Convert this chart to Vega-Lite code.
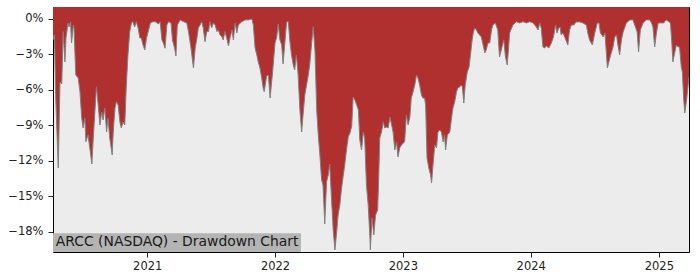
{
  "$schema": "https://vega.github.io/schema/vega-lite/v6.json",
  "width": 636,
  "height": 245,
  "autosize": {"type": "none"},
  "padding": {"left": 53, "top": 7, "right": 11, "bottom": 28},
  "background": "white",
  "config": {
    "view": {"fill": "#ececec", "stroke": "#000000", "strokeWidth": 1},
    "font": "DejaVu Sans",
    "axis": {"labelFont": "DejaVu Sans", "labelFontSize": 11.5, "labelColor": "#222222", "tickColor": "#222222", "tickSize": 5, "domain": false, "grid": false, "title": null}
  },
  "layer": [
    {
      "data": {"values": [
        {"date": "2020-04-07", "dd": -1.77}, {"date": "2020-04-11", "dd": -1.35}, {"date": "2020-04-15", "dd": -6.85}, {"date": "2020-04-22", "dd": -12.59},
        {"date": "2020-04-27", "dd": -5.32}, {"date": "2020-05-02", "dd": -5.49}, {"date": "2020-05-06", "dd": -1.07}, {"date": "2020-05-11", "dd": -3.63},
        {"date": "2020-05-14", "dd": -1.61}, {"date": "2020-05-20", "dd": -0.34}, {"date": "2020-05-23", "dd": -0.68}, {"date": "2020-05-27", "dd": -0.23},
        {"date": "2020-05-30", "dd": -2.03}, {"date": "2020-06-04", "dd": -0.51}, {"date": "2020-06-06", "dd": -0.76}, {"date": "2020-06-11", "dd": -4.73},
        {"date": "2020-06-18", "dd": -4.99}, {"date": "2020-06-23", "dd": -6.14}, {"date": "2020-06-28", "dd": -8.37}, {"date": "2020-07-02", "dd": -9.21},
        {"date": "2020-07-07", "dd": -8.37}, {"date": "2020-07-10", "dd": -10.37}, {"date": "2020-07-16", "dd": -9.80}, {"date": "2020-07-21", "dd": -10.90},
        {"date": "2020-07-27", "dd": -12.25}, {"date": "2020-07-31", "dd": -10.06}, {"date": "2020-08-09", "dd": -5.72}, {"date": "2020-08-14", "dd": -7.27},
        {"date": "2020-08-19", "dd": -8.96}, {"date": "2020-08-24", "dd": -7.86}, {"date": "2020-08-28", "dd": -8.54}, {"date": "2020-09-02", "dd": -7.52},
        {"date": "2020-09-07", "dd": -9.55}, {"date": "2020-09-11", "dd": -8.37}, {"date": "2020-09-16", "dd": -10.06}, {"date": "2020-09-23", "dd": -11.49},
        {"date": "2020-09-26", "dd": -9.55}, {"date": "2020-10-01", "dd": -7.52}, {"date": "2020-10-05", "dd": -6.99}, {"date": "2020-10-10", "dd": -7.27},
        {"date": "2020-10-15", "dd": -8.70}, {"date": "2020-10-19", "dd": -9.21}, {"date": "2020-10-24", "dd": -8.70}, {"date": "2020-10-29", "dd": -8.96},
        {"date": "2020-11-02", "dd": -5.83}, {"date": "2020-11-07", "dd": -3.04}, {"date": "2020-11-12", "dd": -1.10}, {"date": "2020-11-17", "dd": -0.34},
        {"date": "2020-11-21", "dd": -0.23}, {"date": "2020-11-26", "dd": -0.68}, {"date": "2020-12-01", "dd": -0.23}, {"date": "2020-12-06", "dd": -0.76},
        {"date": "2020-12-11", "dd": -1.61}, {"date": "2020-12-15", "dd": -1.61}, {"date": "2020-12-20", "dd": -2.20}, {"date": "2020-12-25", "dd": -2.62},
        {"date": "2020-12-30", "dd": -1.61}, {"date": "2021-01-05", "dd": -0.93}, {"date": "2021-01-10", "dd": -0.34}, {"date": "2021-01-15", "dd": -0.25},
        {"date": "2021-01-24", "dd": -0.23}, {"date": "2021-02-02", "dd": -0.42}, {"date": "2021-02-07", "dd": -0.25}, {"date": "2021-02-12", "dd": -1.77},
        {"date": "2021-02-16", "dd": -2.03}, {"date": "2021-02-21", "dd": -2.48}, {"date": "2021-02-26", "dd": -0.51}, {"date": "2021-03-03", "dd": -0.23},
        {"date": "2021-03-10", "dd": -0.34}, {"date": "2021-03-14", "dd": -1.77}, {"date": "2021-03-20", "dd": -2.45}, {"date": "2021-03-24", "dd": -3.13},
        {"date": "2021-03-28", "dd": -0.51}, {"date": "2021-04-05", "dd": -0.08}, {"date": "2021-04-15", "dd": -0.23}, {"date": "2021-04-24", "dd": -0.34},
        {"date": "2021-04-29", "dd": -1.10}, {"date": "2021-05-06", "dd": -2.45}, {"date": "2021-05-13", "dd": -4.14}, {"date": "2021-05-18", "dd": -2.45},
        {"date": "2021-05-23", "dd": -1.61}, {"date": "2021-05-27", "dd": -0.76}, {"date": "2021-06-06", "dd": -0.23}, {"date": "2021-06-10", "dd": -0.76},
        {"date": "2021-06-15", "dd": -1.92}, {"date": "2021-06-20", "dd": -1.07}, {"date": "2021-06-25", "dd": -1.07}, {"date": "2021-06-29", "dd": -0.23},
        {"date": "2021-07-04", "dd": -0.76}, {"date": "2021-07-09", "dd": -0.34}, {"date": "2021-07-14", "dd": -0.51}, {"date": "2021-07-19", "dd": -1.07},
        {"date": "2021-07-23", "dd": -0.93}, {"date": "2021-07-28", "dd": -1.35}, {"date": "2021-08-02", "dd": -1.50}, {"date": "2021-08-06", "dd": -1.77},
        {"date": "2021-08-11", "dd": -1.07}, {"date": "2021-08-16", "dd": -1.61}, {"date": "2021-08-21", "dd": -2.28}, {"date": "2021-08-26", "dd": -1.50},
        {"date": "2021-08-31", "dd": -0.93}, {"date": "2021-09-04", "dd": -1.77}, {"date": "2021-09-09", "dd": -0.34}, {"date": "2021-09-14", "dd": -1.18},
        {"date": "2021-09-18", "dd": -0.51}, {"date": "2021-09-28", "dd": -0.23}, {"date": "2021-10-08", "dd": -0.08}, {"date": "2021-10-17", "dd": -0.08},
        {"date": "2021-10-27", "dd": 0.0}, {"date": "2021-10-31", "dd": -0.51}, {"date": "2021-11-05", "dd": -2.45}, {"date": "2021-11-10", "dd": -3.04},
        {"date": "2021-11-14", "dd": -3.63}, {"date": "2021-11-19", "dd": -4.14}, {"date": "2021-11-24", "dd": -4.99}, {"date": "2021-11-28", "dd": -5.83},
        {"date": "2021-12-01", "dd": -6.14}, {"date": "2021-12-08", "dd": -4.82}, {"date": "2021-12-13", "dd": -4.73}, {"date": "2021-12-18", "dd": -6.68},
        {"date": "2021-12-25", "dd": -4.48}, {"date": "2022-01-01", "dd": -2.03}, {"date": "2022-01-06", "dd": -1.50}, {"date": "2022-01-10", "dd": -0.42},
        {"date": "2022-01-15", "dd": -1.77}, {"date": "2022-01-20", "dd": -2.20}, {"date": "2022-01-24", "dd": -3.80}, {"date": "2022-01-29", "dd": -2.03},
        {"date": "2022-02-03", "dd": -0.25}, {"date": "2022-02-08", "dd": -0.23}, {"date": "2022-02-12", "dd": -1.77}, {"date": "2022-02-17", "dd": -3.04},
        {"date": "2022-02-22", "dd": -3.89}, {"date": "2022-02-26", "dd": -4.31}, {"date": "2022-03-03", "dd": -3.04}, {"date": "2022-03-08", "dd": -4.73},
        {"date": "2022-03-13", "dd": -7.69}, {"date": "2022-03-18", "dd": -9.55}, {"date": "2022-03-22", "dd": -8.11}, {"date": "2022-03-27", "dd": -6.42},
        {"date": "2022-04-01", "dd": -5.58}, {"date": "2022-04-06", "dd": -4.73}, {"date": "2022-04-10", "dd": -3.89}, {"date": "2022-04-15", "dd": -2.20},
        {"date": "2022-04-20", "dd": -0.65}, {"date": "2022-04-25", "dd": -2.62}, {"date": "2022-04-30", "dd": -7.69}, {"date": "2022-05-04", "dd": -9.63},
        {"date": "2022-05-09", "dd": -11.49}, {"date": "2022-05-14", "dd": -13.61}, {"date": "2022-05-18", "dd": -14.03}, {"date": "2022-05-23", "dd": -17.32},
        {"date": "2022-05-28", "dd": -13.77}, {"date": "2022-06-02", "dd": -13.18}, {"date": "2022-06-06", "dd": -12.25}, {"date": "2022-06-11", "dd": -15.04},
        {"date": "2022-06-16", "dd": -17.83}, {"date": "2022-06-21", "dd": -19.52}, {"date": "2022-06-26", "dd": -18.00}, {"date": "2022-06-30", "dd": -16.56},
        {"date": "2022-07-05", "dd": -15.72}, {"date": "2022-07-10", "dd": -14.28}, {"date": "2022-07-15", "dd": -13.18}, {"date": "2022-07-19", "dd": -12.34},
        {"date": "2022-07-24", "dd": -11.07}, {"date": "2022-07-29", "dd": -9.97}, {"date": "2022-08-03", "dd": -9.63}, {"date": "2022-08-08", "dd": -9.04},
        {"date": "2022-08-12", "dd": -6.59}, {"date": "2022-08-17", "dd": -6.85}, {"date": "2022-08-22", "dd": -7.27}, {"date": "2022-08-27", "dd": -7.69},
        {"date": "2022-08-31", "dd": -10.23}, {"date": "2022-09-05", "dd": -11.07}, {"date": "2022-09-10", "dd": -9.55}, {"date": "2022-09-14", "dd": -10.06},
        {"date": "2022-09-19", "dd": -14.03}, {"date": "2022-09-24", "dd": -15.72}, {"date": "2022-09-29", "dd": -18.51}, {"date": "2022-09-30", "dd": -19.52},
        {"date": "2022-10-05", "dd": -16.82}, {"date": "2022-10-10", "dd": -18.25}, {"date": "2022-10-15", "dd": -16.56}, {"date": "2022-10-21", "dd": -16.14},
        {"date": "2022-10-24", "dd": -13.44}, {"date": "2022-10-27", "dd": -10.06}, {"date": "2022-11-01", "dd": -9.55}, {"date": "2022-11-06", "dd": -8.70},
        {"date": "2022-11-10", "dd": -9.21}, {"date": "2022-11-15", "dd": -9.13}, {"date": "2022-11-20", "dd": -9.21}, {"date": "2022-11-25", "dd": -8.28},
        {"date": "2022-11-30", "dd": -8.96}, {"date": "2022-12-04", "dd": -9.55}, {"date": "2022-12-09", "dd": -11.07}, {"date": "2022-12-14", "dd": -10.39},
        {"date": "2022-12-18", "dd": -11.66}, {"date": "2022-12-23", "dd": -10.90}, {"date": "2022-12-28", "dd": -10.65}, {"date": "2023-01-02", "dd": -10.48},
        {"date": "2023-01-06", "dd": -10.39}, {"date": "2023-01-11", "dd": -8.11}, {"date": "2023-01-16", "dd": -8.96}, {"date": "2023-01-21", "dd": -8.28},
        {"date": "2023-01-25", "dd": -6.68}, {"date": "2023-01-30", "dd": -6.17}, {"date": "2023-02-04", "dd": -5.58}, {"date": "2023-02-09", "dd": -4.73},
        {"date": "2023-02-13", "dd": -4.99}, {"date": "2023-02-18", "dd": -5.58}, {"date": "2023-02-23", "dd": -6.42}, {"date": "2023-02-27", "dd": -6.68},
        {"date": "2023-03-04", "dd": -6.68}, {"date": "2023-03-07", "dd": -7.27}, {"date": "2023-03-11", "dd": -11.75}, {"date": "2023-03-16", "dd": -12.59},
        {"date": "2023-03-21", "dd": -13.18}, {"date": "2023-03-24", "dd": -13.86}, {"date": "2023-03-28", "dd": -12.34}, {"date": "2023-04-02", "dd": -10.65},
        {"date": "2023-04-07", "dd": -10.90}, {"date": "2023-04-11", "dd": -9.55}, {"date": "2023-04-16", "dd": -9.38}, {"date": "2023-04-21", "dd": -9.55},
        {"date": "2023-04-26", "dd": -10.39}, {"date": "2023-04-30", "dd": -9.80}, {"date": "2023-05-03", "dd": -11.07}, {"date": "2023-05-08", "dd": -9.80},
        {"date": "2023-05-15", "dd": -9.55}, {"date": "2023-05-20", "dd": -8.37}, {"date": "2023-05-24", "dd": -7.52}, {"date": "2023-05-29", "dd": -7.01},
        {"date": "2023-06-03", "dd": -6.17}, {"date": "2023-06-07", "dd": -5.83}, {"date": "2023-06-12", "dd": -5.75}, {"date": "2023-06-17", "dd": -5.58},
        {"date": "2023-06-20", "dd": -5.75}, {"date": "2023-06-24", "dd": -7.10}, {"date": "2023-06-28", "dd": -5.58}, {"date": "2023-07-04", "dd": -4.48},
        {"date": "2023-07-09", "dd": -4.06}, {"date": "2023-07-14", "dd": -2.79}, {"date": "2023-07-17", "dd": -1.94}, {"date": "2023-07-21", "dd": -1.18},
        {"date": "2023-07-25", "dd": -0.76}, {"date": "2023-07-30", "dd": -0.93}, {"date": "2023-08-03", "dd": -1.18}, {"date": "2023-08-08", "dd": -1.35},
        {"date": "2023-08-13", "dd": -1.52}, {"date": "2023-08-18", "dd": -2.20}, {"date": "2023-08-23", "dd": -2.87}, {"date": "2023-08-27", "dd": -2.62},
        {"date": "2023-09-01", "dd": -2.03}, {"date": "2023-09-06", "dd": -2.03}, {"date": "2023-09-11", "dd": -0.93}, {"date": "2023-09-15", "dd": -0.51},
        {"date": "2023-09-22", "dd": -0.34}, {"date": "2023-09-29", "dd": -0.93}, {"date": "2023-10-04", "dd": -3.21}, {"date": "2023-10-09", "dd": -2.62},
        {"date": "2023-10-16", "dd": -1.77}, {"date": "2023-10-21", "dd": -3.21}, {"date": "2023-10-26", "dd": -3.89}, {"date": "2023-11-02", "dd": -1.18},
        {"date": "2023-11-11", "dd": -0.51}, {"date": "2023-11-21", "dd": -0.23}, {"date": "2023-11-30", "dd": -0.34}, {"date": "2023-12-10", "dd": -0.23},
        {"date": "2023-12-20", "dd": -0.34}, {"date": "2023-12-29", "dd": -0.23}, {"date": "2024-01-08", "dd": -0.34}, {"date": "2024-01-17", "dd": -0.68},
        {"date": "2024-01-22", "dd": -0.93}, {"date": "2024-01-27", "dd": -0.34}, {"date": "2024-01-31", "dd": -0.76}, {"date": "2024-02-05", "dd": -2.37},
        {"date": "2024-02-10", "dd": -2.45}, {"date": "2024-02-15", "dd": -2.28}, {"date": "2024-02-22", "dd": -2.45}, {"date": "2024-02-29", "dd": -2.03},
        {"date": "2024-03-06", "dd": -1.52}, {"date": "2024-03-12", "dd": -0.51}, {"date": "2024-03-16", "dd": -1.18}, {"date": "2024-03-21", "dd": -0.76},
        {"date": "2024-03-25", "dd": -0.68}, {"date": "2024-03-28", "dd": -1.35}, {"date": "2024-04-02", "dd": -1.18}, {"date": "2024-04-07", "dd": -1.52},
        {"date": "2024-04-16", "dd": -2.20}, {"date": "2024-04-21", "dd": -0.93}, {"date": "2024-04-26", "dd": -0.51}, {"date": "2024-05-03", "dd": -0.51},
        {"date": "2024-05-10", "dd": -0.25}, {"date": "2024-05-20", "dd": -0.25}, {"date": "2024-05-29", "dd": -0.34}, {"date": "2024-06-08", "dd": -0.51},
        {"date": "2024-06-12", "dd": -1.18}, {"date": "2024-06-17", "dd": -1.77}, {"date": "2024-06-25", "dd": -2.20}, {"date": "2024-07-02", "dd": -1.18},
        {"date": "2024-07-09", "dd": -0.34}, {"date": "2024-07-14", "dd": -0.34}, {"date": "2024-07-18", "dd": -1.18}, {"date": "2024-07-26", "dd": -1.52},
        {"date": "2024-07-31", "dd": -1.18}, {"date": "2024-08-04", "dd": -2.87}, {"date": "2024-08-07", "dd": -4.14}, {"date": "2024-08-14", "dd": -3.30},
        {"date": "2024-08-23", "dd": -2.37}, {"date": "2024-08-28", "dd": -1.52}, {"date": "2024-09-02", "dd": -1.35}, {"date": "2024-09-06", "dd": -2.20},
        {"date": "2024-09-11", "dd": -3.04}, {"date": "2024-09-16", "dd": -1.77}, {"date": "2024-09-21", "dd": -1.10}, {"date": "2024-09-30", "dd": -0.34},
        {"date": "2024-10-10", "dd": -0.08}, {"date": "2024-10-19", "dd": -0.08}, {"date": "2024-10-24", "dd": -0.51}, {"date": "2024-10-31", "dd": -1.10},
        {"date": "2024-11-04", "dd": -2.79}, {"date": "2024-11-09", "dd": -0.93}, {"date": "2024-11-17", "dd": -0.34}, {"date": "2024-11-26", "dd": -0.08},
        {"date": "2024-12-06", "dd": -0.08}, {"date": "2024-12-11", "dd": -0.34}, {"date": "2024-12-15", "dd": -0.68}, {"date": "2024-12-20", "dd": -2.37},
        {"date": "2024-12-25", "dd": -1.18}, {"date": "2024-12-30", "dd": -0.34}, {"date": "2025-01-08", "dd": -0.34}, {"date": "2025-01-15", "dd": -0.34},
        {"date": "2025-01-21", "dd": -0.08}, {"date": "2025-01-27", "dd": -0.17}, {"date": "2025-02-03", "dd": -0.34}, {"date": "2025-02-07", "dd": -2.03},
        {"date": "2025-02-10", "dd": -3.63}, {"date": "2025-02-15", "dd": -2.87}, {"date": "2025-02-20", "dd": -2.20}, {"date": "2025-02-25", "dd": -2.37},
        {"date": "2025-03-01", "dd": -2.37}, {"date": "2025-03-06", "dd": -4.06}, {"date": "2025-03-09", "dd": -4.48}, {"date": "2025-03-13", "dd": -6.85},
        {"date": "2025-03-16", "dd": -7.94}, {"date": "2025-03-21", "dd": -6.85}, {"date": "2025-03-25", "dd": -5.75}, {"date": "2025-03-28", "dd": -4.90}
      ]},
      "encoding": {
        "x": {"field": "date", "type": "temporal",
          "scale": {"domain": [{"year": 2020, "month": 4, "date": 7}, {"year": 2025, "month": 3, "date": 28}], "nice": false},
          "axis": {"format": "%Y", "tickCount": {"interval": "year", "step": 1}, "labelPadding": 3, "labelFlush": false}},
        "y": {"field": "dd", "type": "quantitative",
          "scale": {"domain": [-19.69, 1.01], "nice": false, "zero": false},
          "axis": {"values": [0, -3, -6, -9, -12, -15, -18], "labelExpr": "replace(format(datum.value, 'd'), '-', '\u2212') + '%'", "labelPadding": 5}}
      },
      "layer": [
        {"mark": {"type": "area", "color": "#b03030", "interpolate": "linear", "clip": true},
         "encoding": {"y2": {"datum": 1.01}}},
        {"mark": {"type": "line", "color": "#808080", "strokeWidth": 1, "clip": true}}
      ]
    },
    {
      "data": {"values": [{"label": "ARCC (NASDAQ) - Drawdown Chart"}]},
      "layer": [
        {"mark": {"type": "rect", "color": "#b4b4b4", "opacity": 1},
         "encoding": {
           "x": {"datum": {"year": 2020, "month": 4, "date": 7}, "type": "temporal"},
           "x2": {"datum": {"year": 2022, "month": 3, "date": 16}},
           "y": {"datum": -18.1, "type": "quantitative"},
           "y2": {"datum": -19.69}
         }},
        {"mark": {"type": "text", "align": "left", "baseline": "middle", "font": "DejaVu Sans", "fontSize": 13.9, "color": "#1a1a1a"},
         "encoding": {
           "x": {"datum": {"year": 2020, "month": 4, "date": 15}, "type": "temporal"},
           "y": {"datum": -18.86, "type": "quantitative"},
           "text": {"field": "label", "type": "nominal"}
         }}
      ]
    }
  ]
}
